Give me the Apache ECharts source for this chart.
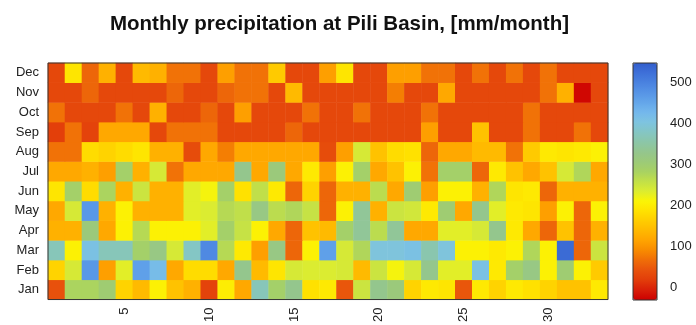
<!DOCTYPE html>
<html>
<head>
<meta charset="utf-8">
<script src="https://cdn.jsdelivr.net/npm/echarts@6/dist/echarts.min.js"></script>
<style>
html,body{margin:0;padding:0;background:#fff;}
#c{width:696px;height:325px;}
</style>
</head>
<body>
<div id="c"></div>
<script>
const years = Array.from({length: 33}, (_, i) => String(i + 1));
const months = ['Jan','Feb','Mar','Apr','May','Jun','Jul','Aug','Sep','Oct','Nov','Dec'];
const xTickLabels = ['5','10','15','20','25','30'];
const colorbarTicks = [0, 100, 200, 300, 400, 500];

const jan = [40,280,280,300,170,140,205,150,130,25,200, 120,370,290,330,185,195,45,250,330,310,170, 195,190,45,195,170,195,185,170,150,150,195];
const feb = [170,240,470,110,230,460,420,120,180,180,120, 330,140,190,240,235,235,240,140,250,215,240, 330,230,230,410,195,290,320,205,300,205,160];
const mar = [370,205,410,370,370,290,320,240,380,490,270, 195,110,320,60,205,460,240,275,400,400,410, 360,400,205,205,195,205,275,205,530,60,250];
const apr = [130,130,310,120,205,270,205,205,205,230,290, 255,205,120,60,150,140,290,340,265,340,120, 120,230,230,240,330,195,120,60,150,60,130];
const may = [120,240,470,130,205,130,130,130,230,235,270, 260,320,265,275,255,60,205,340,130,250,245, 195,300,120,330,230,195,190,110,205,60,205];
const jun = [190,290,180,280,130,250,130,130,230,215,290, 185,260,195,60,170,60,130,130,265,120,300, 110,205,205,130,275,190,195,60,130,130,130];
const jul = [120,120,130,110,290,130,240,70,120,120,120, 330,120,310,120,195,110,205,290,120,150,205, 70,290,290,60,195,150,120,150,240,275,120];
const aug = [70,70,180,170,180,190,130,130,35,120,80, 120,120,120,120,120,35,110,240,150,180,185, 60,120,120,140,140,70,160,195,190,195,205];
const sep = [20,70,25,120,120,120,30,70,70,70,30, 30,30,30,60,30,30,30,30,30,30,30, 110,30,30,150,30,30,70,30,30,70,30];
const oct = [70,30,30,30,70,30,130,30,30,60,30, 110,30,30,30,70,30,30,70,30,30,30, 70,30,30,30,30,30,70,30,30,30,30];
const nov = [30,30,60,30,30,30,30,60,30,30,60, 70,70,30,140,30,30,30,30,30,80,30, 30,120,30,30,30,30,30,70,130,-25,30];
const dec = [30,190,60,130,30,140,130,70,70,30,110, 70,70,160,30,30,110,190,30,30,110,110, 70,70,30,70,30,70,30,70,30,30,30];

const monthValues = [jan, feb, mar, apr, may, jun, jul, aug, sep, oct, nov, dec];
const data = [];
monthValues.forEach((row, m) => row.forEach((v, y) => data.push([y, m, v])));

const palette = ['#cd0000','#d81e08','#e23c0a','#e8520c','#ef6c08','#f88a00','#ffa300','#ffb800','#ffcc00','#ffe200','#fbf505','#dcec30','#c2e048','#a8d262','#9cca78','#94c68e','#8cc6a8','#84c6c4','#7ec4e0','#74b8ec','#64a6ea','#5694e6','#4a82e0','#3e70d8','#325ecc'];
const FONT = 'Liberation Sans, Arial, sans-serif';

const chart = echarts.init(document.getElementById('c'));
chart.setOption({
  backgroundColor: '#fff',
  animation: false,
  title: {
    text: 'Monthly precipitation at Pili Basin, [mm/month]',
    left: 110, top: 14, padding: 0,
    textStyle: {fontFamily: FONT, fontSize: 20.5, fontWeight: 'bold', color: '#111'}
  },
  grid: [
    {left: 48, top: 63, width: 560, height: 237, show: true, borderColor: '#333', borderWidth: 1, backgroundColor: 'transparent', z: 10},
    {left: 633, top: 63, width: 24, height: 237, show: true, borderColor: '#333', borderWidth: 1, backgroundColor: 'transparent', z: 10}
  ],
  xAxis: [
    {type: 'category', data: years, gridIndex: 0,
     axisLine: {show: false}, axisTick: {show: false}, splitLine: {show: false},
     axisLabel: {rotate: 90, margin: 8, fontSize: 13, fontFamily: FONT, color: '#222',
       interval: (i, v) => xTickLabels.indexOf(v) >= 0}},
    {type: 'value', gridIndex: 1, min: 0, max: 1, show: false}
  ],
  yAxis: [
    {type: 'category', data: months, gridIndex: 0,
     axisLine: {show: false}, axisTick: {show: false}, splitLine: {show: false},
     axisLabel: {margin: 9, fontSize: 13, fontFamily: FONT, color: '#222'}},
    {type: 'value', gridIndex: 1, position: 'right', min: -31, max: 548,
     axisLine: {show: false}, splitLine: {show: false},
     axisTick: {show: true, length: 6, customValues: colorbarTicks, lineStyle: {color: '#333'}},
     axisLabel: {margin: 13, fontSize: 13, fontFamily: FONT, color: '#222', customValues: colorbarTicks}}
  ],
  visualMap: {
    type: 'continuous', min: -31, max: 548, seriesIndex: 0, calculable: false,
    orient: 'vertical', left: 633, top: 63, itemWidth: 24, itemHeight: 237,
    padding: 0, text: null, showLabel: false, hoverLink: false,
    inRange: {color: palette}
  },
  series: [{
    type: 'heatmap', xAxisIndex: 0, yAxisIndex: 0, data: data,
    itemStyle: {borderWidth: 0},
    emphasis: {disabled: true}, silent: true, progressive: 0
  }]
});
</script>
</body>
</html>
